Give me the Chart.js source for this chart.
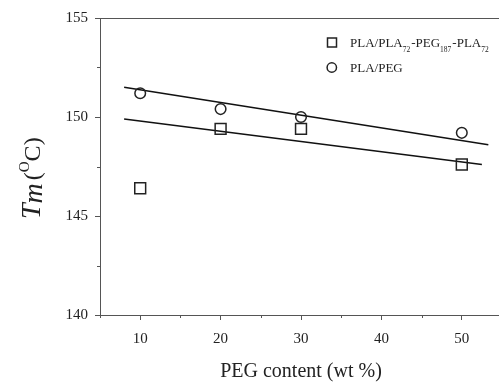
<!DOCTYPE html>
<html>
<head>
<meta charset="utf-8">
<script src="https://cdn.jsdelivr.net/npm/chart.js@4.4.1/dist/chart.umd.min.js"></script>
<style>
  html, body { margin: 0; padding: 0; background: #fff; overflow: hidden; }
  canvas { display: block; }
</style>
</head>
<body>
<canvas id="c" width="502" height="385" style="width:502px;height:385px"></canvas>
<script>
// PEG content (wt %)
const pegContent = [10, 20, 30, 50];
// Tm for PLA/PLA72-PEG187-PLA72 (squares) and PLA/PEG (circles)
const tmBlock = [146.4, 149.4, 149.4, 147.6];
const tmPeg = [151.2, 150.4, 150.0, 149.2];
// linear fit lines (end points)
const fitBlockX = [8, 52.5];
const fitBlockY = [149.9, 147.6];
const fitPegX = [8, 53.3];
const fitPegY = [151.5, 148.6];
// axes
const xTicks = [10, 20, 30, 40, 50];
const xMinor = [5, 15, 25, 35, 45];
const yTicks = [140, 145, 150, 155];
const yMinor = [142.5, 147.5, 152.5];

const SERIF = "'Liberation Serif', 'DejaVu Serif', serif";
const AXIS = "#555";
const INK = "#222";

function pts(xs, ys) { return xs.map((x, i) => ({ x: x, y: ys[i] })); }

const extras = {
    id: "extras",
    afterDraw(chart) {
        const { ctx, chartArea: a, scales: { x, y } } = chart;
        ctx.save();
        ctx.strokeStyle = AXIS;
        ctx.lineWidth = 1;
        ctx.beginPath();
        // top frame
        ctx.moveTo(a.left, a.top + 0.5);
        ctx.lineTo(a.right, a.top + 0.5);
        // minor ticks
        xMinor.forEach(v => {
            const px = Math.round(x.getPixelForValue(v)) + 0.5;
            ctx.moveTo(px, a.bottom); ctx.lineTo(px, a.bottom + 3);
        });
        yMinor.forEach(v => {
            const py = Math.round(y.getPixelForValue(v)) + 0.5;
            ctx.moveTo(a.left, py); ctx.lineTo(a.left - 3, py);
        });
        ctx.stroke();

        // x title
        ctx.fillStyle = INK;
        ctx.font = `20px ${SERIF}`;
        ctx.textAlign = "center";
        ctx.textBaseline = "alphabetic";
        ctx.fillText("PEG content (wt %)", (a.left + a.right) / 2, 377);

        // y title: T_m (°C)
        ctx.textAlign = "left";
        ctx.save();
        ctx.translate(40, 219);
        ctx.rotate(-Math.PI / 2);
        let cx = 0;
        ctx.font = `italic 28px ${SERIF}`;
        ctx.fillText("T", cx, 0); cx += ctx.measureText("T").width;
        ctx.fillText("m", cx, 2); cx += ctx.measureText("m").width + 3;
        ctx.font = `24px ${SERIF}`;
        ctx.fillText("(", cx, 0); cx += ctx.measureText("(").width;
        ctx.font = `15px ${SERIF}`;
        ctx.fillText("O", cx, -11); cx += ctx.measureText("O").width;
        ctx.font = `24px ${SERIF}`;
        ctx.fillText("C)", cx, 0);
        ctx.restore();

        // legend
        ctx.strokeStyle = INK;
        ctx.lineWidth = 1.5;
        ctx.strokeRect(327.5, 38, 9, 9);
        ctx.beginPath();
        ctx.arc(331.8, 67.5, 4.7, 0, Math.PI * 2);
        ctx.stroke();
        const parts = [["PLA/PLA", 0], ["72", 1], ["-PEG", 0], ["187", 1], ["-PLA", 0], ["72", 1]];
        let lx = 350;
        parts.forEach(([t, sub]) => {
            ctx.font = sub ? `7.5px ${SERIF}` : `13px ${SERIF}`;
            ctx.fillText(t, lx, sub ? 51.5 : 47);
            lx += ctx.measureText(t).width + (sub ? 1 : 0);
        });
        ctx.font = `13px ${SERIF}`;
        ctx.fillText("PLA/PEG", 350, 72);
        ctx.restore();
    }
};

new Chart(document.getElementById("c"), {
    type: "scatter",
    data: {
        datasets: [
            {
                label: "PLA/PLA72-PEG187-PLA72",
                data: pts(pegContent, tmBlock),
                pointStyle: "rect",
                pointRadius: 7.7,
                pointBorderWidth: 1.5,
                borderColor: INK,
                backgroundColor: "rgba(255,255,255,0)",
            },
            {
                label: "PLA/PEG",
                data: pts(pegContent, tmPeg),
                pointStyle: "circle",
                pointRadius: 5.3,
                pointBorderWidth: 1.5,
                borderColor: INK,
                backgroundColor: "rgba(255,255,255,0)",
            },
            {
                label: "fit block",
                data: pts(fitBlockX, fitBlockY),
                showLine: true,
                pointRadius: 0,
                borderColor: "#111",
                borderWidth: 1.5,
            },
            {
                label: "fit peg",
                data: pts(fitPegX, fitPegY),
                showLine: true,
                pointRadius: 0,
                borderColor: "#111",
                borderWidth: 1.5,
            },
        ],
    },
    options: {
        responsive: false,
        animation: false,
        events: [],
        devicePixelRatio: 1,
        layout: { autoPadding: false, padding: { top: 18, left: 0, right: 0, bottom: 0 } },
        plugins: { legend: { display: false }, tooltip: { enabled: false } },
        scales: {
            x: {
                type: "linear",
                min: 5, max: 55,
                afterBuildTicks: s => { s.ticks = xTicks.map(v => ({ value: v })); },
                afterFit: s => { s.height = 70; s.paddingLeft = 0; s.paddingRight = 0; },
                grid: { display: true, drawOnChartArea: false, drawTicks: true, tickLength: 5, color: AXIS },
                border: { display: true, color: AXIS, width: 1 },
                ticks: { padding: 10, color: INK, font: { family: SERIF, size: 15 } },
            },
            y: {
                type: "linear",
                min: 140, max: 155,
                afterBuildTicks: s => { s.ticks = yTicks.map(v => ({ value: v })); },
                afterFit: s => { s.width = 100; s.paddingTop = 0; s.paddingBottom = 0; },
                grid: { display: true, drawOnChartArea: false, drawTicks: true, tickLength: 5, color: AXIS },
                border: { display: true, color: AXIS, width: 1 },
                ticks: { padding: 7, color: INK, font: { family: SERIF, size: 15 } },
            },
        },
    },
    plugins: [extras],
});
</script>
</body>
</html>
